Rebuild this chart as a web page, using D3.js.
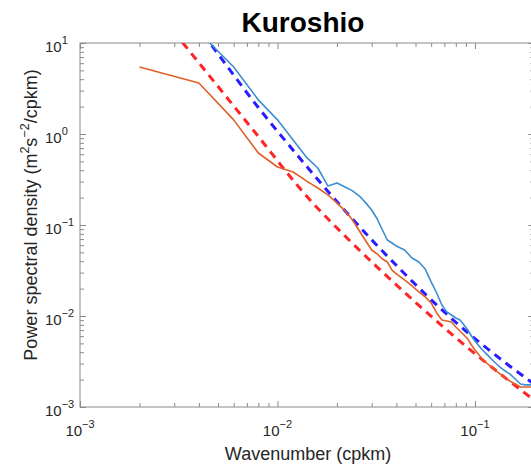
<!DOCTYPE html>
<html>
<head>
<meta charset="utf-8">
<script src="https://cdn.jsdelivr.net/npm/d3@7/dist/d3.min.js"></script>
<style>
  html, body { margin: 0; padding: 0; background: #fff; }
  svg { display: block; font-family: "Liberation Sans", Arial, Helvetica, sans-serif; }
</style>
</head>
<body>
<svg id="chart" width="531" height="469"></svg>
<script>
// Wavenumbers of the spectral estimates (cpkm)
const wavenumber = [
  0.002, 0.004, 0.006, 0.008, 0.010, 0.012, 0.014, 0.016, 0.018, 0.020,
  0.022, 0.024, 0.026, 0.028, 0.030, 0.032, 0.034, 0.036, 0.038, 0.040,
  0.044, 0.048, 0.052, 0.056, 0.060, 0.064, 0.068, 0.072, 0.076, 0.080,
  0.084, 0.088, 0.092, 0.096, 0.100, 0.108, 0.116, 0.124, 0.132, 0.140,
  0.150, 0.160, 0.170, 0.180, 0.192
];

// Measured spectrum, blue curve (m^2 s^-2 / cpkm)
const psdBlue = [
  20.3, 13.2, 5.45, 2.37, 1.43, 0.859, 0.558, 0.423, 0.269, 0.290,
  0.262, 0.237, 0.208, 0.175, 0.146, 0.1164, 0.0881, 0.0684, 0.0634, 0.0587,
  0.0531, 0.0434, 0.0392, 0.0328, 0.0237, 0.0179, 0.0132, 0.0111, 0.01025, 0.00951,
  0.00904, 0.00796, 0.00701, 0.00603, 0.00531, 0.00434, 0.00372, 0.00320, 0.00282, 0.00255,
  0.00231, 0.00203, 0.00179, 0.00175, 0.00175
];

// Measured spectrum, orange curve (m^2 s^-2 / cpkm)
const psdOrange = [
  5.45, 3.63, 1.43, 0.618, 0.434, 0.382, 0.305, 0.255, 0.214, 0.175,
  0.143, 0.1135, 0.0859, 0.0667, 0.0531, 0.0480, 0.0423, 0.0392, 0.0320, 0.0290,
  0.0249, 0.0214, 0.0184, 0.0162, 0.0139, 0.0108, 0.00904, 0.00881, 0.00859, 0.00757,
  0.00684, 0.00618, 0.00558, 0.00480, 0.00423, 0.00345, 0.00297, 0.00262, 0.00237, 0.00214,
  0.00193, 0.00179, 0.00166, 0.00166, 0.00166
];

// Reference spectral fits (dashed)
const fitRedK   = [0.00269, 0.00332, 0.00752, 0.01462, 0.0225, 0.0485, 0.0910, 0.1897, 0.200];
const fitRedPsd = [17.6, 10.0, 1.11, 0.188, 0.0720, 0.0150, 0.00456, 0.00129, 0.00118];

const fitBlueK   = [0.00382, 0.00455, 0.00796, 0.01198, 0.0225, 0.0417, 0.0746, 0.1452, 0.1897, 0.200];
const fitBluePsd = [16.6, 10.0, 1.98, 0.667, 0.1355, 0.0328, 0.00975, 0.00297, 0.00193, 0.00177];

// Axis ticks
const xDecades = [1e-3, 1e-2, 1e-1];
const xDecadeExp = ["-3", "-2", "-1"];
const yDecades = [1e-3, 1e-2, 1e-1, 1e0, 1e1];
const yDecadeExp = ["-3", "-2", "-1", "0", "1"];

const svg = d3.select("#chart");
const plotLeft = 80, plotRight = 534.4, plotTop = 43, plotBottom = 407;

const x = d3.scaleLog().domain([1e-3, 0.2]).range([plotLeft, plotRight]);
const y = d3.scaleLog().domain([1e-3, 10]).range([plotBottom, plotTop]);

const axisColor = "#8a8a8a";
const textColor = "#262626";

// minor ticks for each decade
function minorTicks(lo, hi) {
  const out = [];
  for (let d = lo; d < hi * 0.999; d *= 10) {
    for (let m = 2; m <= 9; m++) {
      const v = d * m;
      if (v <= hi) out.push(v);
    }
  }
  return out;
}
const xMinor = minorTicks(1e-3, 0.2);
const yMinor = minorTicks(1e-3, 10);

// clip region for data
svg.append("defs").append("clipPath").attr("id", "plotClip")
  .append("rect").attr("x", plotLeft).attr("y", plotTop)
  .attr("width", plotRight - plotLeft).attr("height", plotBottom - plotTop);

// axes box with inward ticks
const axes = svg.append("g").attr("class", "axes");

function drawAxis(gen, transform, ticks, size) {
  const g = axes.append("g").attr("transform", transform)
    .call(gen.tickValues(ticks).tickSize(size).tickFormat(""));
  g.select(".domain").remove();
  g.selectAll("line").attr("stroke", axisColor).attr("stroke-width", 1);
  return g;
}

const majorLen = 6, minorLen = 4;
drawAxis(d3.axisBottom(x), `translate(0,${plotBottom})`, xDecades, -majorLen);
drawAxis(d3.axisBottom(x), `translate(0,${plotBottom})`, xMinor, -minorLen);
drawAxis(d3.axisTop(x), `translate(0,${plotTop})`, xDecades, -majorLen);
drawAxis(d3.axisTop(x), `translate(0,${plotTop})`, xMinor, -minorLen);
drawAxis(d3.axisLeft(y), `translate(${plotLeft},0)`, yDecades, -majorLen);
drawAxis(d3.axisLeft(y), `translate(${plotLeft},0)`, yMinor, -minorLen);
drawAxis(d3.axisRight(y), `translate(${plotRight},0)`, yDecades, -majorLen);
drawAxis(d3.axisRight(y), `translate(${plotRight},0)`, yMinor, -minorLen);

axes.append("rect")
  .attr("x", plotLeft).attr("y", plotTop)
  .attr("width", plotRight - plotLeft).attr("height", plotBottom - plotTop)
  .attr("fill", "none").attr("stroke", axisColor).attr("stroke-width", 1);

// tick labels: 10 with superscript exponent
const xl = svg.append("g").attr("fill", textColor).attr("font-size", 15);
xDecades.forEach((v, i) => {
  const t = xl.append("text")
    .attr("x", x(v)).attr("y", plotBottom + 29)
    .attr("text-anchor", "middle");
  t.append("tspan").text("10");
  t.append("tspan").attr("font-size", 11).attr("dy", -8).text(xDecadeExp[i].replace("-", "\u2212"));
});

const yl = svg.append("g").attr("fill", textColor).attr("font-size", 15);
yDecades.forEach((v, i) => {
  const t = yl.append("text")
    .attr("x", 45).attr("y", y(v) + 9)
    .attr("text-anchor", "start");
  t.append("tspan").text("10");
  t.append("tspan").attr("font-size", 11).attr("dy", -8).text(yDecadeExp[i].replace("-", "\u2212"));
});

// axis titles
svg.append("text")
  .attr("x", 308).attr("y", 460)
  .attr("text-anchor", "middle").attr("fill", textColor).attr("font-size", 18)
  .text("Wavenumber (cpkm)");

const yt = svg.append("text")
  .attr("transform", "translate(37,215) rotate(-90)")
  .attr("text-anchor", "middle").attr("fill", textColor).attr("font-size", 18);
yt.append("tspan").text("Power spectral density (m");
yt.append("tspan").attr("font-size", 12.5).attr("dy", -8).text("2");
yt.append("tspan").attr("dy", 8).text("s");
yt.append("tspan").attr("font-size", 12.5).attr("dy", -8).text("\u22122");
yt.append("tspan").attr("dy", 8).text("/cpkm)");

// title
svg.append("text")
  .attr("x", 303).attr("y", 32)
  .attr("text-anchor", "middle").attr("fill", "#000")
  .attr("font-size", 28).attr("font-weight", "bold")
  .text("Kuroshio");

// data
const plot = svg.append("g").attr("clip-path", "url(#plotClip)");

const lineLin = d3.line().x(d => x(d[0])).y(d => y(d[1]));
const lineSmooth = d3.line().x(d => x(d[0])).y(d => y(d[1])).curve(d3.curveMonotoneX);

plot.append("path")
  .datum(fitRedK.map((k, i) => [k, fitRedPsd[i]]))
  .attr("d", lineSmooth)
  .attr("fill", "none").attr("stroke", "#ff2525").attr("stroke-width", 3)
  .attr("stroke-dasharray", "8,6");

plot.append("path")
  .datum(fitBlueK.map((k, i) => [k, fitBluePsd[i]]))
  .attr("d", lineSmooth)
  .attr("fill", "none").attr("stroke", "#2a1cff").attr("stroke-width", 3)
  .attr("stroke-dasharray", "8,6");

plot.append("path")
  .datum(wavenumber.map((k, i) => [k, psdBlue[i]]))
  .attr("d", lineLin)
  .attr("fill", "none").attr("stroke", "#3a8fd2").attr("stroke-width", 1.6)
  .attr("stroke-linejoin", "round");

plot.append("path")
  .datum(wavenumber.map((k, i) => [k, psdOrange[i]]))
  .attr("d", lineLin)
  .attr("fill", "none").attr("stroke", "#e0602a").attr("stroke-width", 1.6)
  .attr("stroke-linejoin", "round");
</script>
</body>
</html>
